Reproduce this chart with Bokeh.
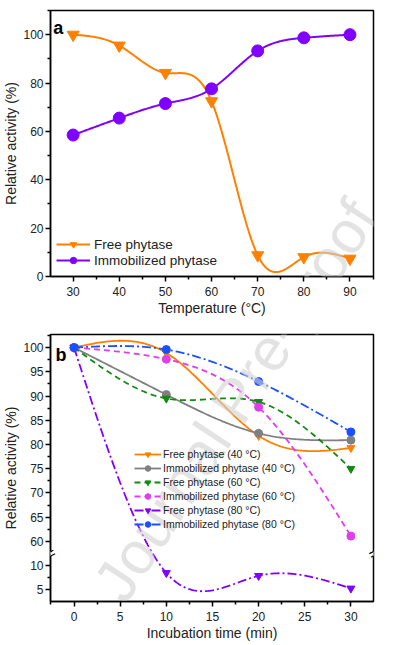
import numpy as np
from bokeh.plotting import figure
from bokeh.models import FixedTicker, Legend, LegendItem, Label, Range1d
from bokeh.layouts import column
from bokeh.embed import file_html
from bokeh.resources import INLINE

# ---------------- data: panel a ----------------
temperature = [30, 40, 50, 60, 70, 80, 90]
free_a = [100, 95.5, 84.2, 72.5, 8.8, 8.0, 7.4]
immob_a = [58.5, 65.5, 71.5, 77.6, 93.3, 98.7, 100]

# ---------------- data: panel b ----------------
time_b = [0, 10, 20, 30]
free40 = [100, 98.9, 81.8, 79.3]
immob40 = [100, 90.3, 82.3, 80.9]
free60 = [100, 89.5, 88.8, 75.0]
immob60 = [100, 97.6, 87.7, 61.1]
free80 = [100, 8.5, 7.9, 5.3]
immob80 = [100, 99.6, 93.0, 82.6]

labels_b = ["Free phytase (40 \u00b0C)", "Immobilized phytase (40 \u00b0C)",
            "Free phytase (60 \u00b0C)", "Immobilized phytase (60 \u00b0C)",
            "Free phytase (80 \u00b0C)", "Immobilized phytase (80 \u00b0C)"]

FONT = "Liberation Sans"
BREAK_LO, BREAK_HI = 12.5, 57.5   # broken y axis (panel b)
SHIFT = BREAK_HI - BREAK_LO


def brk(v):
    v = np.asarray(v, float)
    return np.where(v <= BREAK_LO, v + SHIFT, v)


def spline(x, y, n=60):
    x = np.asarray(x, float); y = np.asarray(y, float)
    k = len(x); h = np.diff(x)
    A = np.zeros((k, k)); r = np.zeros(k)
    A[0, 0] = 1; A[-1, -1] = 1
    for i in range(1, k - 1):
        A[i, i - 1] = h[i - 1]; A[i, i] = 2 * (h[i - 1] + h[i]); A[i, i + 1] = h[i]
        r[i] = 6 * ((y[i + 1] - y[i]) / h[i] - (y[i] - y[i - 1]) / h[i - 1])
    M = np.linalg.solve(A, r)
    xs, ys = [], []
    for i in range(k - 1):
        t = np.linspace(x[i], x[i + 1], n, endpoint=(i == k - 2))
        a = x[i + 1] - t; b = t - x[i]
        s = (M[i] * a ** 3 + M[i + 1] * b ** 3) / (6 * h[i]) \
            + (y[i] / h[i] - M[i] * h[i] / 6) * a + (y[i + 1] / h[i] - M[i + 1] * h[i] / 6) * b
        xs.append(t); ys.append(s)
    return np.concatenate(xs), np.concatenate(ys)


def style(p):
    p.outline_line_color = "black"
    p.outline_line_width = 1.5
    p.grid.grid_line_color = None
    p.background_fill_color = "white"
    p.border_fill_color = "white"
    for ax in (p.xaxis[0], p.yaxis[0]):
        ax.axis_line_width = 1.5
        ax.major_tick_line_width = 1.5
        ax.minor_tick_line_width = 1.5
        ax.major_tick_out = 5
        ax.major_tick_in = 0
        ax.minor_tick_out = 3
        ax.minor_tick_in = 0
        ax.major_label_text_font = FONT
        ax.major_label_text_font_size = "12px"
        ax.major_label_text_color = "#222222"
        ax.axis_label_text_font = FONT
        ax.axis_label_text_font_size = "14px"
        ax.axis_label_text_font_style = "normal"
        ax.axis_label_text_color = "#222222"
        ax.axis_label_standoff = 1
    p.xaxis[0].major_label_standoff = 5
    p.yaxis[0].major_label_standoff = 2


# ================= panel a =================
pa = figure(width=380, height=318, output_backend="svg", toolbar_location=None,
            x_range=Range1d(25.1, 95.1), y_range=Range1d(0, 110),
            min_border_left=42, min_border_right=7, min_border_top=10, min_border_bottom=0)
style(pa)
pa.xaxis.axis_label = "Temperature (\u00b0C)"
pa.yaxis.axis_label = "Relative activity (%)"
pa.xaxis.ticker = FixedTicker(ticks=[30, 40, 50, 60, 70, 80, 90],
                              minor_ticks=[35, 45, 55, 65, 75, 85, 95])
pa.yaxis.ticker = FixedTicker(ticks=[0, 20, 40, 60, 80, 100],
                              minor_ticks=[10, 30, 50, 70, 90, 110])

ORANGE = "#FF8000"
VIOLET = "#8000FF"

sx, sy = spline(temperature, free_a)
l1 = pa.line(sx, sy, line_color=ORANGE, line_width=2)
m1 = pa.scatter(temperature, free_a, marker="inverted_triangle", size=12,
                fill_color=ORANGE, line_color=ORANGE)
sx, sy = spline(temperature, immob_a)
l2 = pa.line(sx, sy, line_color=VIOLET, line_width=2)
m2 = pa.scatter(temperature, immob_a, marker="circle", size=12,
                fill_color=VIOLET, line_color=VIOLET)

leg_a = Legend(items=[LegendItem(label="Free phytase", renderers=[l1, m1]),
                      LegendItem(label="Immobilized phytase", renderers=[l2, m2])],
               location=(6, 8), background_fill_alpha=0, border_line_color=None,
               label_text_font=FONT, label_text_font_size="13.5px",
               label_text_color="#222222", glyph_width=34, glyph_height=16,
               label_height=16, spacing=0, padding=0, margin=0, label_standoff=4)
pa.add_layout(leg_a, "center")

pa.add_layout(Label(x=25.7, y=102.8, text="a", text_font=FONT, text_font_size="18px",
                    text_font_style="bold", text_color="black", text_baseline="alphabetic"))

# ================= panel b =================
pb = figure(width=380, height=325, output_backend="svg", toolbar_location=None,
            x_range=Range1d(-2.55, 32.45), y_range=Range1d(47.6, 102.7),
            min_border_left=42, min_border_right=7, min_border_top=16, min_border_bottom=0)
style(pb)
pb.xaxis.axis_label = "Incubation time (min)"
pb.yaxis.axis_label = "Relative activity (%)"
pb.xaxis.ticker = FixedTicker(ticks=[0, 5, 10, 15, 20, 25, 30],
                              minor_ticks=[-2.5, 2.5, 7.5, 12.5, 17.5, 22.5, 27.5, 32.5])
up_ticks = [60, 65, 70, 75, 80, 85, 90, 95, 100]
low_ticks = [5, 10]
pb.yaxis.ticker = FixedTicker(ticks=list(brk(low_ticks)) + up_ticks,
                              minor_ticks=list(brk([2.5, 7.5])) + [62.5, 67.5, 72.5, 77.5,
                                                                  82.5, 87.5, 92.5, 97.5, 102.5])
pb.yaxis.major_label_overrides = {float(t): str(v) for t, v in zip(brk(low_ticks), low_ticks)}

series = [
    (free40, "#FF8000", "inverted_triangle", "solid"),
    (immob40, "#808080", "circle", "solid"),
    (free60, "#108A10", "inverted_triangle", "6 4"),
    (immob60, "#E03CF0", "circle", "6 4"),
    (free80, "#8000FF", "inverted_triangle", "9 3 2 3"),
    (immob80, "#1A50FF", "circle", "9 3 2 3"),
]
items = []
for (vals, col, mk, dash), lab in zip(series, labels_b):
    yv = brk(vals)
    sx, sy = spline(time_b, yv)
    lr = pb.line(sx, sy, line_color=col, line_width=1.8, line_dash=dash)
    mr = pb.scatter(time_b, yv, marker=mk, size=8, fill_color=col, line_color=col)
    items.append(LegendItem(label=lab, renderers=[lr, mr]))

leg_b = Legend(items=items, location=(84, 70), background_fill_alpha=0, border_line_color=None,
               label_text_font=FONT, label_text_font_size="10.5px", label_text_color="#222222",
               glyph_width=27, glyph_height=14, label_height=14, spacing=0, padding=0,
               margin=0, label_standoff=2)
pb.add_layout(leg_b, "center")

pb.add_layout(Label(x=-2.0, y=98.4, text="b", text_font=FONT, text_font_size="18px",
                    text_font_style="bold", text_color="black", text_baseline="alphabetic"))

# axis-break marks on both sides
for xb in (-2.55, 32.45):
    pb.add_layout(Label(x=xb, y=BREAK_HI, text="0", text_font_size="5px", text_color="white",
                        background_fill_color="white", text_align="center",
                        text_baseline="middle", angle=0.45, padding=0))
    pb.add_layout(Label(x=xb, y=BREAK_HI, text="=", text_font=FONT, text_font_size="16px",
                        text_color="black", text_align="center", text_baseline="middle",
                        angle=0.45))

# watermark
WM = "Journal Pre-proof"
pa.add_layout(Label(x=65.3, y=-51.2, text=WM, text_font=FONT, text_font_size="60px",
                    text_color="#d0d0d0", text_alpha=0.6, text_align="center",
                    text_baseline="middle", angle=0.99))
pb.add_layout(Label(x=17.5, y=89.1, text=WM, text_font=FONT, text_font_size="60px",
                    text_color="#d0d0d0", text_alpha=0.6, text_align="center",
                    text_baseline="middle", angle=0.99))

layout = column(pa, pb, spacing=0)
open("out.html", "w").write(file_html(layout, INLINE))
